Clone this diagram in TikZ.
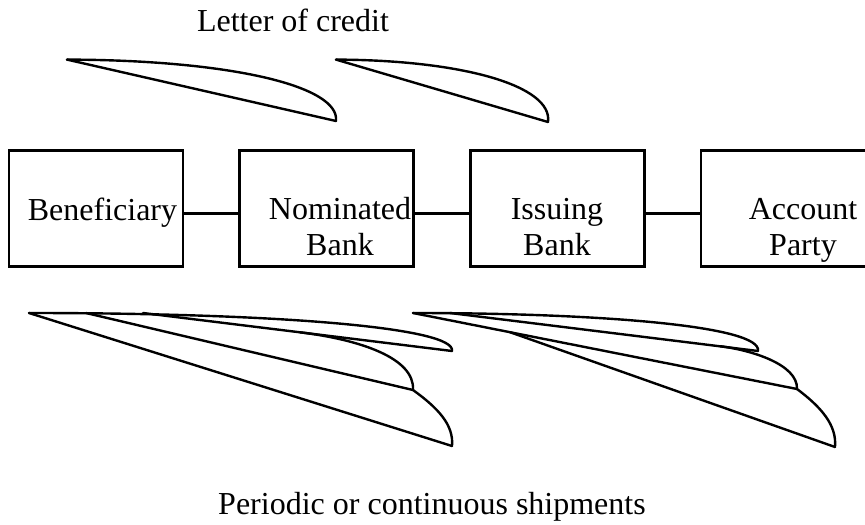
\documentclass[tikz,border=0pt]{standalone}
\usepackage{fontspec}
\setmainfont{Liberation Serif}
\begin{document}
\begin{tikzpicture}[x=0.75pt,y=-0.75pt,
  box/.style={draw,line width=2.2pt,minimum width=130.5pt,minimum height=86.6pt,inner sep=0pt,outer sep=0pt},
  lbl/.style={anchor=base,inner sep=0pt,font=\fontsize{24}{27}\selectfont},
  link/.style={line width=1.9pt},
  blade/.style={line width=1.8pt,line join=round,line cap=round}]
\useasboundingbox (0,0) rectangle (865,525);

% boxes
\node[box] (b1) at (96,208.5) {};
\node[box] (b2) at (326.5,208.5) {};
\node[box] (b3) at (557.5,208.5) {};
\node[box] (b4) at (788,208.5) {};

\node[lbl] (t1) at (102.5,220) {Beneficiary};
\node[lbl] (t2) at (340,219) {\begin{tabular}[t]{@{}c@{}}Nominated\\Bank\end{tabular}};
\node[lbl] (t3) at (557,219) {\begin{tabular}[t]{@{}c@{}}Issuing\\Bank\end{tabular}};
\node[lbl] (t4) at (803,219) {\begin{tabular}[t]{@{}c@{}}Account\\Party\end{tabular}};

\draw[link] ([yshift=-3.75pt]b1.east) -- ([yshift=-3.75pt]b2.west);
\draw[link] ([yshift=-3.75pt]b2.east) -- ([yshift=-3.75pt]b3.west);
\draw[link] ([yshift=-3.75pt]b3.east) -- ([yshift=-3.75pt]b4.west);

% captions
\node[lbl] (loc) at (293,31.7) {Letter of credit};
\node[lbl] (pcs) at (432,514) {Periodic or continuous shipments};

% top blades
\coordinate (T1) at (67,59.6);
\coordinate (E1) at (336,121);
\coordinate (T2) at (336,59.6);
\coordinate (E2) at (548,122);
\draw[blade] (T1) -- (E1);
\draw[blade] (T1) .. controls (230,60) and (340,86) .. (E1);
\draw[blade] (T2) -- (E2);
\draw[blade] (T2) .. controls (463,60) and (553,86) .. (E2);

% bottom group 1
\coordinate (A) at (29,313);
\coordinate (B) at (86,313);
\coordinate (C) at (143,313);
\coordinate (U) at (452,351);
\coordinate (M) at (413,390);
\coordinate (L) at (452,446);
\coordinate (P) at (300,332.3);
\draw[blade] (A) -- (L);
\draw[blade] (B) -- (M);
\draw[blade] (C) -- (U);
\draw[blade] (A) .. controls (283,313) and (456,328) .. (U);
\draw[blade] (P) .. controls (360,339.7) and (415,358) .. (M);
\draw[blade] (M) .. controls (438,408) and (454,425) .. (L);

% bottom group 2
\coordinate (A2) at (413,313);
\coordinate (C2) at (450,313);
\coordinate (U2) at (758,351);
\coordinate (M2) at (797,389);
\coordinate (L2) at (835,447);
\coordinate (K2) at (510,332.2);
\coordinate (P2) at (720,346.2);
\draw[blade] (A2) -- (M2);
\draw[blade] (K2) -- (L2);
\draw[blade] (C2) -- (U2);
\draw[blade] (A2) .. controls (600,313) and (762,326) .. (U2);
\draw[blade] (P2) .. controls (750,349.9) and (798,364) .. (M2);
\draw[blade] (M2) .. controls (821,407) and (837,425) .. (L2);
\end{tikzpicture}
\end{document}
